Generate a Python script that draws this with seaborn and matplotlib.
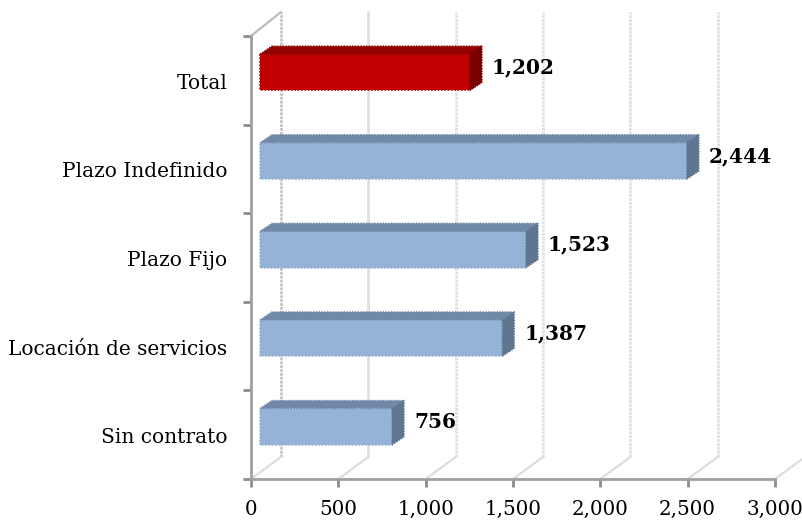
import numpy as np
import pandas as pd
import matplotlib
matplotlib.use('Agg')
import matplotlib.pyplot as plt
import matplotlib.transforms as mtrans
import seaborn as sns
from matplotlib.patches import Polygon

# Datos del grafico
categorias = ['Total', 'Plazo Indefinido', 'Plazo Fijo', 'Locación de servicios', 'Sin contrato']
valores = [1202, 2444, 1523, 1387, 756]
etiquetas = ['1,202', '2,444', '1,523', '1,387', '756']
ticks_x = [0, 500, 1000, 1500, 2000, 2500, 3000]
ticks_x_txt = ['0', '500', '1,000', '1,500', '2,000', '2,500', '3,000']

# Colores: frente, techo, lado
rojo = ['#C00000', '#930000', '#780000']
azul = ['#95B3D7', '#7089A8', '#5F7691']

sns.set_style('white')
plt.rcParams['font.family'] = ['DejaVu Serif']

W, H = 802, 521
fig = plt.figure(figsize=(W / 100, H / 100), dpi=100)
ax = fig.add_axes([251 / W, 1 - 479 / H, 524 / W, 443 / H])

df = pd.DataFrame({'categoria': categorias, 'valor': valores})
paleta = {c: (rojo[0] if c == 'Total' else azul[0]) for c in categorias}
sns.barplot(data=df, x='valor', y='categoria', hue='categoria', palette=paleta,
            dodge=False, legend=False, saturation=1, width=0.41, ax=ax, zorder=3)

ax.set_xlim(0, 3000)
ax.set_ylim(4.5, -0.5)
ax.set_xlabel('')
ax.set_ylabel('')

# pixeles a unidades de datos
ux = 3000 / 524
uy = 5 / 443


def px(n):
    return n * ux


def py(n):
    return n * uy


# Pared del fondo
tope, base = -0.5 - py(24), 4.5 - py(22)
for i, t in enumerate(ticks_x):
    xg = t + px(30)
    color = '#c4c4c4' if i == 0 else '#e0e0e0'
    estilo = '-' if i == 1 else (0, (1, 0.4))
    ax.plot([xg, xg], [base, tope], color=color, lw=2,
            ls=estilo, clip_on=False, zorder=1)
    ax.plot([t, xg], [4.5, base], color='#dddddd', lw=1.6, clip_on=False, zorder=1)
ax.plot([0, px(30)], [-0.5, tope], color='#bdbdbd', lw=1.6, clip_on=False, zorder=1)

# Barras con aspecto 3D
for barra, cat, txt in zip(ax.patches, categorias, etiquetas):
    c = rojo if cat == 'Total' else azul
    barra.set_x(barra.get_x() + px(9))
    barra.set_y(barra.get_y() - py(8))
    barra.set_edgecolor(c[0])
    barra.set_linewidth(1.2)
    barra.set_linestyle((0, (1, 1)))
    barra.set_clip_on(False)
    x0, x1 = barra.get_x(), barra.get_x() + barra.get_width()
    y0, y1 = barra.get_y(), barra.get_y() + barra.get_height()
    dx, dy = px(12), py(8)
    ax.add_patch(Polygon([(x0, y0), (x0 + dx, y0 - dy), (x1 + dx, y0 - dy), (x1, y0)],
                         fc=c[1], ec=c[1], lw=1, ls=(0, (1, 1)), zorder=3, clip_on=False))
    ax.add_patch(Polygon([(x1, y0), (x1 + dx, y0 - dy), (x1 + dx, y1 - dy), (x1, y1)],
                         fc=c[2], ec=c[2], lw=1, ls=(0, (1, 1)), zorder=3, clip_on=False))
    ax.text(x1 + px(22), (y0 + y1) / 2 - py(5), txt, fontsize=14.5, fontweight='bold',
            color='black', va='center', ha='left', zorder=5, clip_on=False)

# Ejes
sns.despine(ax=ax, top=True, right=True)
for lado in ['left', 'bottom']:
    ax.spines[lado].set_color('#a0a0a0')
    ax.spines[lado].set_linewidth(2)
    ax.spines[lado].set_zorder(2)

ax.set_xticks(ticks_x)
ax.set_xticklabels(ticks_x_txt, clip_on=False)
ax.tick_params(axis='x', bottom=True, length=6, width=2, color='#8c8c8c',
               labelsize=14.3, labelcolor='black', pad=9)
ax.set_yticks(range(len(categorias)))
ax.set_yticklabels(categorias)
ax.set_yticks(np.arange(-0.5, 5), minor=True)
ax.tick_params(axis='y', which='major', left=False, length=0, labelsize=14.5,
               labelcolor='black', pad=17)
ax.tick_params(axis='y', which='minor', left=True, length=5.5, width=2, color='#8c8c8c')
baja = mtrans.ScaledTranslation(0, -1 / 100, fig.dpi_scale_trans)
for lab in ax.get_yticklabels():
    lab.set_transform(lab.get_transform() + baja)

fig.savefig('out.png', dpi=100, facecolor='white')
